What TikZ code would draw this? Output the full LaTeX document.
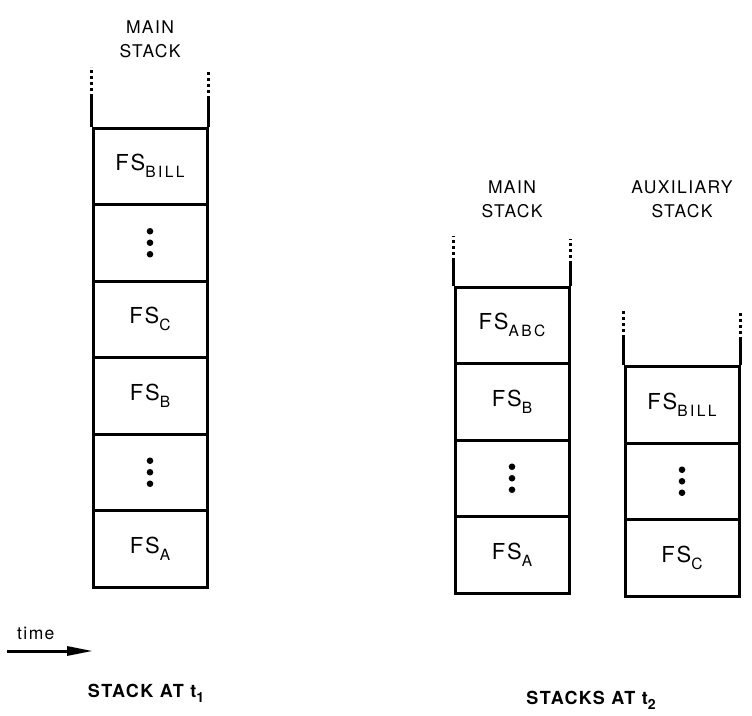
\documentclass[tikz,border=0pt]{standalone}
\usepackage{fontspec}
\setmainfont{TeX Gyre Heros}
\newfontfamily\spc[LetterSpace=8]{TeX Gyre Heros}
\newfontfamily\spcsub[LetterSpace=16]{TeX Gyre Heros}
\usetikzlibrary{arrows.meta}
\newcommand\fsname[1]{{\spc\fontsize{22}{26}\selectfont FS\raisebox{-7pt}{\spcsub\fontsize{15.5}{17}\selectfont #1}}}
\tikzset{
  box/.style={draw, line width=3pt, minimum width=114pt, minimum height=76.5pt, inner sep=0pt},
  rail/.style={line width=3pt},
  railDots/.style={line width=3pt, dash pattern=on 3pt off 3pt},
  head/.style={font=\spc\fontsize{17.5}{20}\selectfont, inner sep=0pt},
  caption/.style={font=\spc\bfseries\fontsize{18}{20}\selectfont, inner sep=0pt},
  vdot/.style={fill=black}
}
\begin{document}
\begin{tikzpicture}[x=1pt,y=-1pt]
\useasboundingbox (0,0) rectangle (752,715);
% left stack
\node[head] (lh1) at (150,27) {MAIN};
\node[head] (lh2) at (150,51) {STACK};
\node[box] (L1) at (150,166.25) {\fsname{BILL}};
\node[box] (L2) at (150,242.75) {};
\node[box] (L3) at (150,319.25) {\fsname{C}};
\node[box] (L4) at (150,395.75) {\fsname{B}};
\node[box] (L5) at (150,472.25) {};
\node[box] (L6) at (150,548.75) {\fsname{A}};
\foreach \n in {L2,L5}{
  \fill[vdot] (\n.center) circle[radius=3.3pt];
  \fill[vdot] ([yshift=11.5pt]\n.center) circle[radius=3.3pt];
  \fill[vdot] ([yshift=-11.5pt]\n.center) circle[radius=3.3pt];
}
\coordinate (La) at ([yshift=30pt]L1.north west);
\coordinate (Lb) at ([yshift=60pt]L1.north west);
\coordinate (Lc) at ([yshift=28pt]L1.north east);
\coordinate (Ld) at ([yshift=56pt]L1.north east);
\draw[rail] (L1.north west) -- (La);
\draw[rail] (L1.north east) -- (Lc);
\draw[railDots] (La) -- (Lb);
\draw[railDots] (Lc) -- (Ld);
% middle stack
\node[head] (mh1) at (512,187) {MAIN};
\node[head] (mh2) at (512,211) {STACK};
\node[box] (M1) at (512,325.25) {\fsname{ABC}};
\node[box] (M2) at (512,401.75) {\fsname{B}};
\node[box] (M3) at (512,478.25) {};
\node[box] (M4) at (512,554.75) {\fsname{A}};
\fill[vdot] (M3.center) circle[radius=3.3pt];
\fill[vdot] ([yshift=11.5pt]M3.center) circle[radius=3.3pt];
\fill[vdot] ([yshift=-11.5pt]M3.center) circle[radius=3.3pt];
\coordinate (Ma) at ([yshift=25pt]M1.north west);
\coordinate (Mb) at ([yshift=50pt]M1.north west);
\coordinate (Mc) at ([yshift=22pt]M1.north east);
\coordinate (Md) at ([yshift=47pt]M1.north east);
\draw[rail] (M1.north west) -- (Ma);
\draw[rail] (M1.north east) -- (Mc);
\draw[railDots] (Ma) -- (Mb);
\draw[railDots] (Mc) -- (Md);
% right stack
\node[head] (rh1) at (682,187) {AUXILIARY};
\node[head] (rh2) at (682,211) {STACK};
\node[box] (R1) at (682,404.75) {\fsname{BILL}};
\node[box] (R2) at (682,481.25) {};
\node[box] (R3) at (682,557.75) {\fsname{C}};
\fill[vdot] (R2.center) circle[radius=3.3pt];
\fill[vdot] ([yshift=11.5pt]R2.center) circle[radius=3.3pt];
\fill[vdot] ([yshift=-11.5pt]R2.center) circle[radius=3.3pt];
\coordinate (Ra) at ([yshift=27pt]R1.north west);
\coordinate (Rb) at ([yshift=54pt]R1.north west);
\coordinate (Rc) at ([yshift=25pt]R1.north east);
\coordinate (Rd) at ([yshift=52pt]R1.north east);
\draw[rail] (R1.north west) -- (Ra);
\draw[rail] (R1.north east) -- (Rc);
\draw[railDots] (Ra) -- (Rb);
\draw[railDots] (Rc) -- (Rd);
% time arrow
\node[head, anchor=base west] (time) at (17,639) {time};
\coordinate (ts) at (7,651);
\coordinate (te) at (93,651);
\draw[line width=3pt, -{Triangle[length=26pt,width=9pt]}] (ts) -- (te);
% captions
\node[caption] (c1) at (146,693) {STACK AT t\raisebox{-5pt}{\fontsize{14}{15}\selectfont 1}};
\node[caption] (c2) at (591,700) {STACKS AT t\raisebox{-5pt}{\fontsize{14}{15}\selectfont 2}};
\end{tikzpicture}
\end{document}
